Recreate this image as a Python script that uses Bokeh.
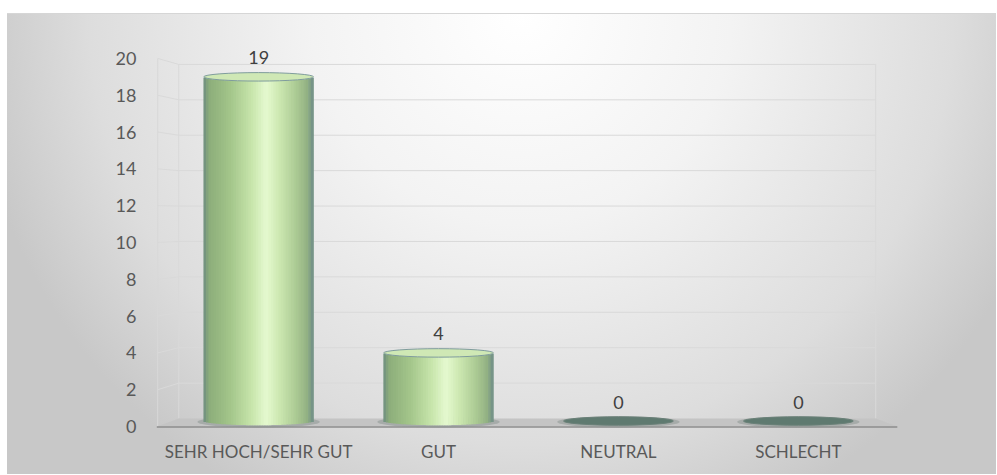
import math
from bokeh.plotting import figure
from bokeh.models import FactorRange, Range1d, FixedTicker, ColumnDataSource
from bokeh.transform import dodge
from bokeh.core.properties import value
from bokeh.embed import file_html
from bokeh.resources import INLINE

# ---- data ----
categories = ["SEHR HOCH/SEHR GUT", "GUT", "NEUTRAL", "SCHLECHT"]
counts = [19, 4, 0, 0]
y_ticks = [0, 2, 4, 6, 8, 10, 12, 14, 16, 18, 20]

FONT = "Lato"
TXT = "#595959"

p = figure(
    width=989, height=461,
    x_range=FactorRange(factors=categories, range_padding=0.14, range_padding_units="absolute"),
    y_range=Range1d(-0.27, 20.92),
    output_backend="svg", toolbar_location=None,
    min_border_left=136, min_border_right=83, min_border_top=27, min_border_bottom=44,
)
p.styles = {
    "margin-top": "13px",
    "margin-left": "7px",
    "background": "radial-gradient(ellipse 56% 120% at 52% 0%, #ffffff 0%, #f3f3f3 38%, #dddddd 78%, #c8c8c8 100%)",
    "border-top": "1px solid #d6d6d6",
}
p.border_fill_color = None
p.background_fill_color = None
p.outline_line_color = None
p.xgrid.visible = False
p.ygrid.visible = False

# ---- 3D walls (decoration derived from tick values) ----
xl_front, xl_back, xr_back, xr_front = -0.061, 0.056, 3.93, 4.05
def back(v):
    return 0.435 + 0.962 * v

gx, gy = [], []
for t in y_ticks[1:]:
    gx.append([xl_front, xl_back, xr_back])
    gy.append([t, back(t), back(t)])
gx += [[xl_front, xl_front], [xl_back, xl_back], [xr_back, xr_back]]
gy += [[0, y_ticks[-1]], [back(0), back(y_ticks[-1])], [back(0), back(y_ticks[-1])]]
p.multi_line(xs=gx, ys=gy, line_color="#d9d9d9", line_width=1)

# floor
p.patch(x=[xl_front - 0.005, xr_front, xr_back, xl_back], y=[0, 0, back(0), back(0)],
        fill_color="#c4c4c4", line_color=None)
p.line(x=[xl_front - 0.005, xr_front], y=[-0.03, -0.03], line_color="#8c8c8c", line_width=1.5)

# ---- cylinders ----
lift = 0.3      # base sits on middle of floor
half_w = 0.305  # half bar width in category units
b = 0.23        # half height of ellipse caps (data units)
N = 44

stops = [
    (0.00, (0x6d, 0x8c, 0x80)),
    (0.05, (0x8c, 0xad, 0x7a)),
    (0.25, (0xa4, 0xc6, 0x8b)),
    (0.45, (0xc9, 0xe7, 0xad)),
    (0.57, (0xe5, 0xf9, 0xd0)),
    (0.68, (0xcf, 0xea, 0xb3)),
    (0.85, (0xaa, 0xc9, 0x92)),
    (0.95, (0x90, 0xaf, 0x82)),
    (1.00, (0x6e, 0x8c, 0x88)),
]
def grad(u):
    for (u0, c0), (u1, c1) in zip(stops[:-1], stops[1:]):
        if u0 <= u <= u1:
            f = (u - u0) / (u1 - u0) if u1 > u0 else 0
            return "#%02x%02x%02x" % tuple(int(round(a + (c - a) * f)) for a, c in zip(c0, c1))
    return "#%02x%02x%02x" % stops[-1][1]

cap_y = [max(v, lift) for v in counts]
data = dict(cat=categories, val=counts, capy=cap_y,
            cap_fill=["#cfe8b5" if v > 0 else "#5f7a70" for v in counts],
            cap_line=["#7f9c9c" if v > 0 else "#6a8078" for v in counts],
            lab=[str(v) for v in counts])
offs = []
for k in range(N):
    t = -1 + (2 * k + 1) / N
    s = math.sqrt(max(0.0, 1 - t * t))
    offs.append((t, s))
    data[f"top{k}"] = [(v - b * s) if v > 0 else lift for v in counts]
    data[f"bot{k}"] = [(lift - b * s) if v > 0 else lift for v in counts]
src = ColumnDataSource(data)

# shadow on floor
p.ellipse(x="cat", y=lift - 0.05, width=2 * half_w + 0.07, height=2 * b + 0.15, source=src,
          fill_color="#8e9893", fill_alpha=0.55, line_color=None)

sw = 2 * half_w / N
for k, (t, s) in enumerate(offs):
    p.vbar(x=dodge("cat", t * half_w, range=p.x_range), top=f"top{k}", bottom=f"bot{k}",
           width=sw * 1.25, source=src, fill_color=grad((t + 1) / 2), line_color=None)

p.ellipse(x="cat", y="capy", width=2 * half_w, height=2 * b, source=src,
          fill_color="cap_fill", line_color="cap_line", line_width=1)

p.text(x="cat", y="capy", text="lab", source=src, y_offset=-19,
       text_align="center", text_baseline="alphabetic",
       text_font=value(FONT), text_font_size="18px", text_color="#404040")

# ---- axes ----
p.yaxis.ticker = FixedTicker(ticks=y_ticks)
p.yaxis.minor_tick_line_color = None
for ax in (p.xaxis[0], p.yaxis[0]):
    ax.axis_line_color = None
    ax.major_tick_line_color = None
    ax.major_label_text_font = FONT
    ax.major_label_text_color = TXT
p.yaxis.major_label_text_font_size = "18px"
p.xaxis.major_label_text_font_size = "17px"
p.yaxis.major_label_standoff = 1
p.xaxis.major_label_standoff = 3

open("out.html", "w").write(file_html(p, INLINE))
